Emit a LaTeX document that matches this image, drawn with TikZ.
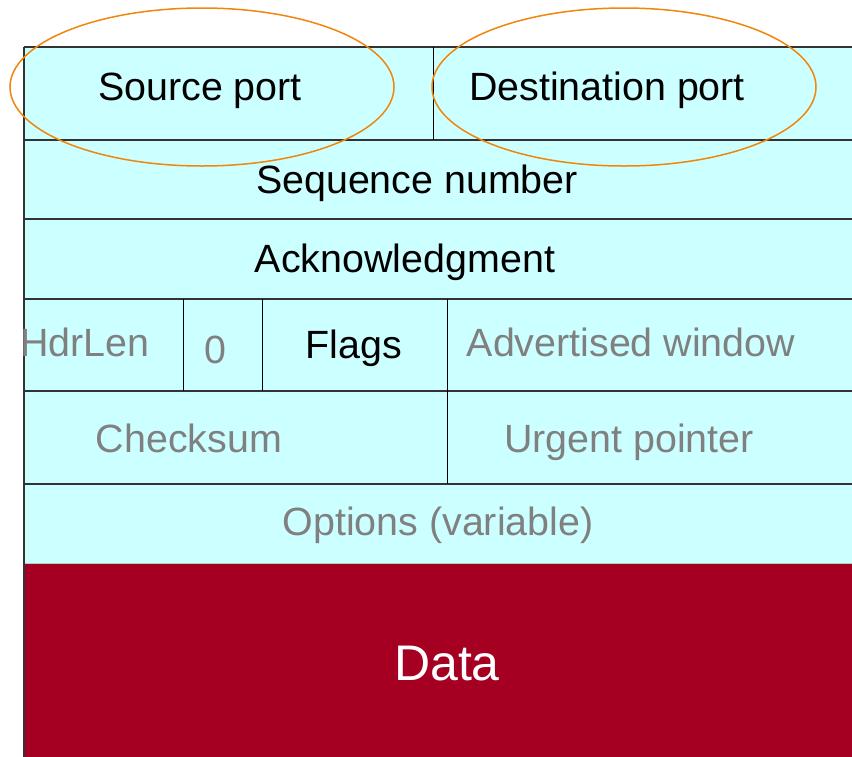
\documentclass[tikz,border=0pt]{standalone}
\usepackage{fontspec}
\setmainfont{Liberation Sans}
\definecolor{cellcyan}{HTML}{CCFFFF}
\definecolor{datared}{HTML}{A50021}
\definecolor{ringorange}{HTML}{F0860A}
\definecolor{greytext}{HTML}{808080}
\definecolor{rowline}{HTML}{333333}
\begin{document}
\begin{tikzpicture}[x=1pt,y=-1pt,
  lbl/.style={anchor=base,inner sep=0pt,font=\fontsize{39.4}{46}\selectfont},
  glbl/.style={lbl,text=greytext},
  hline/.style={draw=rowline,line width=1.5pt},
  vline/.style={draw=black,line width=1pt},
  ring/.style={draw=ringorange,line width=1.5pt}]
\useasboundingbox (0,0) rectangle (852,756);
% fills
\fill[cellcyan] (24,47) rectangle (860,563);
\fill[datared] (24,563) rectangle (860,760);
% row separators
\draw[hline] (24,47) -- (860,47);
\draw[hline] (24,140) -- (860,140);
\draw[hline] (24,219) -- (860,219);
\draw[hline] (24,299) -- (860,299);
\draw[hline] (24,391) -- (860,391);
\draw[hline] (24,484) -- (860,484);
\draw[draw=cellcyan!60!gray,line width=1pt] (24,563) -- (860,563);
\draw[hline] (24,47) -- (24,760);
% column separators
\draw[vline] (433,47) -- (433,140);
\draw[vline] (183,299) -- (183,391);
\draw[vline] (262,299) -- (262,391);
\draw[vline] (447,299) -- (447,484);
% labels
\node[lbl] (src) at (200,100) {Source port};
\node[lbl] (dst) at (607,100) {Destination port};
\node[lbl] (seq) at (417,193) {Sequence number};
\node[lbl] (ack) at (405,272) {Acknowledgment};
\node[glbl] (hdr) at (85,356) {HdrLen};
\node[glbl] (zero) at (215,363) {0};
\node[lbl] (flags) at (354,358) {Flags};
\node[glbl] (adv) at (631,356) {Advertised window};
\node[glbl] (chk) at (189,452) {Checksum};
\node[glbl] (urg) at (629,452) {Urgent pointer};
\node[glbl] (opt) at (438,535) {Options (variable)};
\node[anchor=base,inner sep=0pt,text=white,font=\fontsize{50}{58}\selectfont] (data) at (447,680) {Data};
% ellipses
\draw[ring] (202,87) ellipse [x radius=192, y radius=79];
\draw[ring] (624,87) ellipse [x radius=192, y radius=79];
\end{tikzpicture}
\end{document}
